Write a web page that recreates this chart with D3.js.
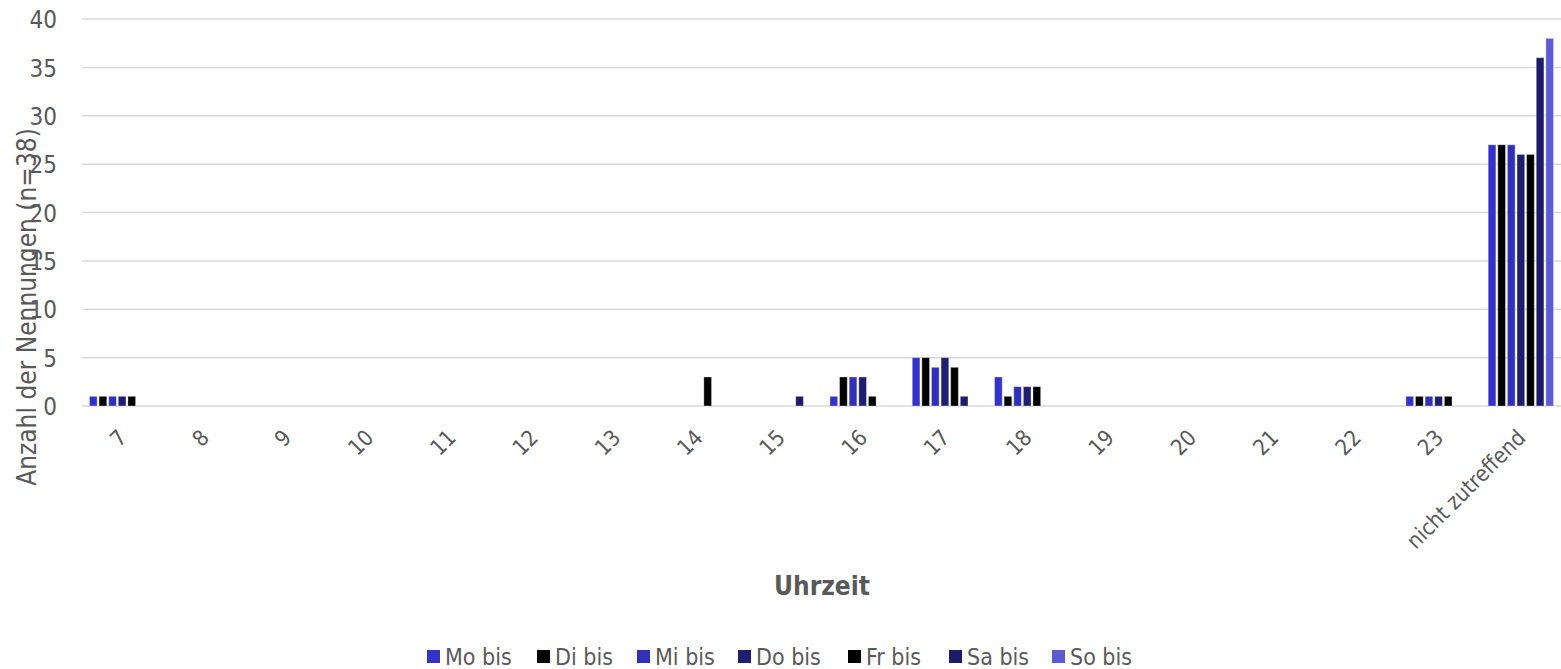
<!DOCTYPE html>
<html><head><meta charset="utf-8">
<script src="https://cdn.jsdelivr.net/npm/d3@7"></script>
<style>body{margin:0;background:#fff}svg{display:block}text{font-family:"DejaVu Sans Condensed","DejaVu Sans",sans-serif;font-stretch:condensed;fill:#595959}</style>
</head><body><svg id="c" width="1561" height="669"></svg>
<script>
const categories = ["7","8","9","10","11","12","13","14","15","16","17","18","19","20","21","22","23","nicht zutreffend"];
const seriesNames = ["Mo bis","Di bis","Mi bis","Do bis","Fr bis","Sa bis","So bis"];
const seriesColors = ["#3333CC","#000000","#3030BB","#1F1F70","#000000","#1C1C6B","#5B5BD6"];
const moBis = [1,0,0,0,0,0,0,0,0,1,5,3,0,0,0,0,1,27];
const diBis = [1,0,0,0,0,0,0,0,0,3,5,1,0,0,0,0,1,27];
const miBis = [1,0,0,0,0,0,0,0,0,3,4,2,0,0,0,0,1,27];
const doBis = [1,0,0,0,0,0,0,0,0,3,5,2,0,0,0,0,1,26];
const frBis = [1,0,0,0,0,0,0,3,0,1,4,2,0,0,0,0,1,26];
const saBis = [0,0,0,0,0,0,0,0,1,0,1,0,0,0,0,0,0,36];
const soBis = [0,0,0,0,0,0,0,0,0,0,0,0,0,0,0,0,0,38];
const yTicks = [0,5,10,15,20,25,30,35,40];
const seriesValues = [moBis,diBis,miBis,doBis,frBis,saBis,soBis];

const svg = d3.select("#c");
const x0 = d3.scaleBand().domain(categories).range([82,1563]).paddingInner(0).paddingOuter(0);
const x1 = d3.scaleBand().domain(seriesNames).range([6.5, x0.bandwidth()-8.5]).paddingInner(0.2).paddingOuter(0.1);
const y = d3.scaleLinear().domain([0,40]).range([406,19]);

// grid
svg.append("g").selectAll("line").data(yTicks).join("line")
  .attr("x1",82).attr("x2",1561).attr("y1",d=>y(d)).attr("y2",d=>y(d))
  .attr("stroke","#D9D9D9").attr("stroke-width",1.5);

// y axis labels
const yAxis = d3.axisLeft(y).tickValues(yTicks).tickSize(0).tickPadding(0);
const gy = svg.append("g").attr("transform","translate(57,1)").call(yAxis);
gy.select(".domain").remove();
gy.selectAll("text").style("font-size","24px").attr("fill","#595959").style("font-family",null);

// bars
seriesNames.forEach((s,si)=>{
  svg.append("g").selectAll("rect").data(seriesValues[si].map((v,i)=>({c:categories[i],v})).filter(d=>d.v>0)).join("rect")
    .attr("x",d=>x0(d.c)+x1(s)).attr("width",x1.bandwidth())
    .attr("y",d=>y(d.v)).attr("height",d=>y(0)-y(d.v))
    .attr("fill",seriesColors[si]).attr("stroke","rgba(255,255,255,0.35)").attr("stroke-width",1);
});

// x axis labels
const xAxis = d3.axisBottom(x0).tickSize(0).tickPadding(0);
const gx = svg.append("g").attr("transform","translate(0,406)").call(xAxis);
gx.select(".domain").remove();
gx.selectAll("text").style("font-size","22px").attr("fill","#595959").style("font-family",null)
  .attr("text-anchor","end").attr("dy",null).attr("y",0)
  .attr("transform","translate(5,33) rotate(-45)");

// axis titles
svg.append("text").attr("transform","translate(36,307) rotate(-90)").attr("text-anchor","middle")
  .style("font-size","26px").text("Anzahl der Nennungen (n=38)");
svg.append("text").attr("x",822).attr("y",595).attr("text-anchor","middle")
  .style("font-size","26px").style("font-weight","bold").text("Uhrzeit");

// legend
const legX = [427,537,637,738,848,949,1052];
const lg = svg.append("g").selectAll("g").data(seriesNames).join("g")
  .attr("transform",(d,i)=>`translate(${legX[i]},650)`);
lg.append("rect").attr("width",13).attr("height",13).attr("fill",(d,i)=>seriesColors[i]);
lg.append("text").attr("x",18).attr("y",15).style("font-size","23px").text(d=>d);
</script></body></html>
